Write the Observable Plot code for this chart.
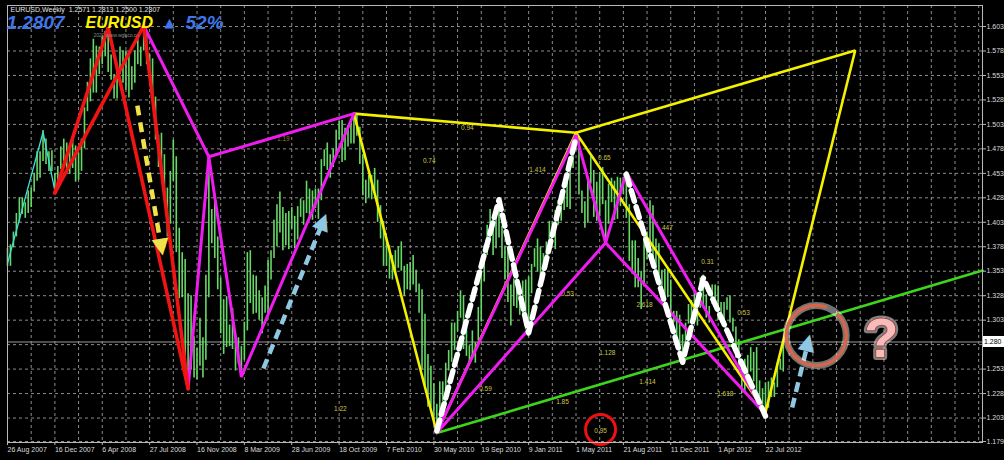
<!DOCTYPE html>
<html><head><meta charset="utf-8">
<script src="https://cdn.jsdelivr.net/npm/d3@7"></script>
<script src="https://cdn.jsdelivr.net/npm/@observablehq/plot@0.6"></script>
<style>html,body{margin:0;padding:0;background:#000;overflow:hidden}#chart{width:1004px;height:460px}</style>
</head><body><div id="chart"></div>
<script>
// ---------- DATA ----------
const firstWeek = "2007-08-26";
const lastWeek = "2012-09-02";
const domainEnd = "2013-12-17";
// weekly lows / highs
const lows2007 = [1.3580,1.3580,1.3770,1.3880,1.4030,1.4110,1.4070,1.4120,1.4180,1.4340,1.4450,1.4480,1.4650,1.4620,1.4550,1.4550,1.4350,1.4380,1.4570];
const highs2007 = [1.3760,1.3800,1.3930,1.4120,1.4280,1.4280,1.4230,1.4350,1.4380,1.4530,1.4750,1.4750,1.4967,1.4880,1.4750,1.4760,1.4530,1.4600,1.4800];
const lows2008 = [1.4630,1.4580,1.4520,1.4580,1.4440,1.4460,1.4550,1.4780,1.5160,1.5260,1.5350,1.5350,1.5540,1.5640,1.5720,1.5560,1.5480,1.5290,1.5290,1.5540,1.5450,1.5380,1.5300,1.5380,1.5450,1.5640,1.5620,1.5780,1.5640,1.5520,1.5300,1.4870,1.4590,1.4590,1.4270,1.3880,1.4010,1.4450,1.3720,1.3250,1.3260,1.2490,1.2330,1.2520,1.2440,1.2420,1.2560,1.2440,1.2620,1.3260,1.3810,1.3660];
const highs2008 = [1.4880,1.4840,1.4780,1.4900,1.4810,1.4740,1.4880,1.5200,1.5460,1.5700,1.5900,1.5830,1.5820,1.5920,1.5980,1.6020,1.5740,1.5540,1.5580,1.5820,1.5780,1.5780,1.5760,1.5620,1.5780,1.5920,1.5820,1.6040,1.5950,1.5740,1.5700,1.5310,1.4920,1.4940,1.4720,1.4380,1.4550,1.4870,1.4700,1.3970,1.3720,1.3650,1.3300,1.3280,1.2860,1.2740,1.3050,1.2850,1.3490,1.4720,1.4160,1.4300];
const lows2009 = [1.3340,1.2890,1.2680,1.2750,1.2760,1.2730,1.2510,1.2580,1.2460,1.2620,1.2920,1.3200,1.3090,1.3100,1.3030,1.2890,1.3100,1.3070,1.3440,1.3660,1.3780,1.3920,1.3740,1.3790,1.3750,1.3960,1.3760,1.3850,1.4080,1.4000,1.4120,1.4060,1.4050,1.4170,1.4060,1.4250,1.4600,1.4560,1.4480,1.4590,1.4710,1.4870,1.4640,1.4660,1.4800,1.4830,1.4830,1.4910,1.4620,1.4300,1.4220,1.4280];
const highs2009 = [1.3880,1.3460,1.3240,1.3270,1.2980,1.3150,1.2880,1.2850,1.2760,1.3010,1.3720,1.3740,1.3490,1.3480,1.3330,1.3260,1.3380,1.3640,1.3740,1.4050,1.4210,1.4340,1.4180,1.4120,1.4140,1.4180,1.4090,1.4190,1.4270,1.4250,1.4450,1.4370,1.4350,1.4370,1.4370,1.4670,1.4770,1.4840,1.4720,1.4780,1.4970,1.5060,1.5070,1.4990,1.5020,1.5070,1.5140,1.5140,1.5000,1.4720,1.4460,1.4510];
const lows2010 = [1.4260,1.4330,1.4030,1.3860,1.3580,1.3580,1.3450,1.3440,1.3510,1.3560,1.3530,1.3270,1.3340,1.3330,1.3390,1.3310,1.3100,1.2520,1.2360,1.2140,1.2140,1.1960,1.1876,1.2010,1.2200,1.2150,1.2510,1.2600,1.2720,1.2910,1.3050,1.2730,1.2660,1.2590,1.2650,1.2590,1.2820,1.3010,1.3420,1.3690,1.3850,1.3690,1.3760,1.3870,1.3660,1.3440,1.3210,1.2970,1.3170,1.3150,1.3080,1.3100];
const highs2010 = [1.4510,1.4580,1.4460,1.4200,1.4040,1.3860,1.3790,1.3690,1.3740,1.3780,1.3830,1.3580,1.3600,1.3620,1.3690,1.3540,1.3400,1.3340,1.3090,1.2680,1.2560,1.2380,1.2170,1.2400,1.2400,1.2590,1.2720,1.3000,1.3000,1.3120,1.3330,1.3280,1.2960,1.2770,1.2920,1.2800,1.3160,1.3500,1.3790,1.4000,1.4160,1.4100,1.4100,1.4280,1.3990,1.3780,1.3780,1.3390,1.3450,1.3500,1.3250,1.3430];
const lows2011 = [1.2930,1.2860,1.3300,1.3570,1.3520,1.3430,1.3430,1.3560,1.3760,1.3860,1.3750,1.4000,1.4040,1.4150,1.4180,1.4160,1.4580,1.4760,1.4310,1.4120,1.3970,1.4020,1.4420,1.4080,1.4040,1.4090,1.4210,1.3840,1.4010,1.4230,1.4050,1.4060,1.4190,1.4310,1.4070,1.3630,1.3500,1.3360,1.3360,1.3140,1.3370,1.3650,1.3690,1.3610,1.3480,1.3420,1.3240,1.3190,1.3260,1.2950,1.3000,1.2860];
const highs2011 = [1.3440,1.3470,1.3600,1.3760,1.3860,1.3780,1.3710,1.3830,1.4040,1.4040,1.4150,1.4250,1.4240,1.4340,1.4520,1.4650,1.4880,1.4940,1.4890,1.4350,1.4240,1.4460,1.4700,1.4560,1.4440,1.4540,1.4590,1.4250,1.4420,1.4480,1.4450,1.4490,1.4480,1.4490,1.4550,1.4210,1.3840,1.3840,1.3660,1.3530,1.3920,1.3930,1.4250,1.4200,1.3860,1.3810,1.3540,1.3550,1.3550,1.3440,1.3120,1.3120];
const lows2012 = [1.2660,1.2620,1.2690,1.2990,1.3020,1.3080,1.2970,1.3150,1.3180,1.3050,1.3000,1.3190,1.3250,1.3030,1.3000,1.3000,1.3130,1.3000,1.2910,1.2640,1.2500,1.2280,1.2290,1.2440,1.2500,1.2400,1.2270,1.2160,1.2160,1.2042,1.2130,1.2240,1.2240,1.2340,1.2520,1.2500];
const highs2012 = [1.3080,1.2880,1.3000,1.3190,1.3230,1.3320,1.3180,1.3460,1.3490,1.3290,1.3170,1.3390,1.3390,1.3380,1.3210,1.3210,1.3260,1.3280,1.3050,1.2960,1.2830,1.2540,1.2630,1.2670,1.2750,1.2700,1.2750,1.2410,1.2330,1.2390,1.2400,1.2440,1.2390,1.2590,1.2630,1.2813];

const currentPrice = 1.2807;
const currentLabel = "1.280";
const yTicks = [1.179,1.203,1.228,1.253,1.278,1.303,1.328,1.353,1.378,1.403,1.428,1.453,1.478,1.503,1.528,1.553,1.578,1.603];
const yLabelTicks = [1.179,1.203,1.228,1.253,1.303,1.328,1.353,1.378,1.403,1.428,1.453,1.478,1.503,1.528,1.553,1.578,1.603];
const xLabelDates = ["2007-08-26","2007-12-16","2008-04-06","2008-07-27","2008-11-16","2009-03-08","2009-06-28","2009-10-18","2010-02-07","2010-05-30","2010-09-19","2011-01-09","2011-05-01","2011-08-21","2011-12-11","2012-04-01","2012-07-22"];

const cyanZigzag = [["2007-08-26",1.3610],["2007-11-18",1.4950],["2007-12-16",1.4350]];
const redLegs = [
  [["2007-12-16",1.4330],["2008-04-20",1.6020],["2008-10-26",1.2330]],
  [["2007-12-16",1.4330],["2008-07-13",1.6038],["2008-10-26",1.2330]]
];
const magentaLegs = [
  [["2008-07-13",1.6038],["2008-12-14",1.4700]],
  [["2008-10-26",1.2330],["2008-12-14",1.4700],["2009-03-01",1.2450],["2009-11-22",1.5140]],
  [["2008-12-14",1.4700],["2009-11-22",1.5140]],
  [["2010-06-06",1.1880],["2011-05-01",1.4920],["2011-07-10",1.3820],["2011-08-28",1.4540],["2012-07-22",1.2070]],
  [["2010-06-06",1.1880],["2011-07-10",1.3820],["2012-07-22",1.2070]]
];
const yellowLegs = [
  [["2009-11-22",1.5140],["2010-06-06",1.1880],["2011-05-01",1.4945],["2012-07-22",1.2090],["2013-02-19",1.5785],["2011-05-01",1.4945]],
  [["2009-11-22",1.5140],["2011-05-01",1.4945]]
];
const greenTrend = [["2010-06-06",1.1876],["2013-12-17",1.3537]];
const whiteZigzags = [
  [["2010-06-06",1.1900],["2010-10-31",1.4260],["2011-01-09",1.2900],["2011-05-01",1.4900]],
  [["2011-08-28",1.4520],["2012-01-08",1.2600],["2012-02-26",1.3460],["2012-07-22",1.2050]]
];
const yellowArrow = [["2008-06-28",1.5223],["2008-08-24",1.3762]];
const blueArrows = [
  [["2009-04-22",1.2536],["2009-09-11",1.4048]],
  [["2012-09-23",1.2137],["2012-10-31",1.2812]]
];
const bigCircle = ["2012-11-19",1.2873];
const smallCircle = ["2011-06-28",1.1913];
const questionMark = ["2013-04-22",1.2837];
const ratioLabels = [
  ["0.94","2010-08-17",1.4998],["0.74","2010-05-19",1.4661],["1.414","2011-01-30",1.4569],
  ["0.65","2011-07-07",1.4692],["0.53","2011-04-11",1.3302],["447","2011-12-03",1.3976],
  ["0.31","2012-03-07",1.3629],["2.618","2011-10-10",1.3190],["0.53","2012-05-31",1.3108],
  ["1.128","2011-07-14",1.2699],["1.414","2011-10-17",1.2403],["1.618","2012-04-18",1.2280],
  ["1.85","2011-03-30",1.2199],["0.59","2010-09-29",1.2332],["1.22","2009-10-21",1.2127],
  ["0.95","2011-06-28",1.1903]
];
const dimLabel = ["1.19","2009-06-08",1.4886];
const headerInfo = "EURUSD,Weekly  1.2571 1.2813 1.2500 1.2807";
const headerPrice = "1.2807";
const headerSymbol = "EURUSD";
const headerPct = "52%";
const watermark = "2020 www.wgbco.cn";

// ---------- BUILD ----------
const parse = d3.utcParse("%Y-%m-%d");
const lows = [...lows2007, ...lows2008, ...lows2009, ...lows2010, ...lows2011, ...lows2012];
const highs = [...highs2007, ...highs2008, ...highs2009, ...highs2010, ...highs2011, ...highs2012];
const weeks = d3.utcWeek.range(parse(firstWeek), d3.utcDay.offset(parse(lastWeek), 1));
const bars = weeks.map((d, i) => ({date: d, low: lows[i], high: highs[i]}));
const toPts = (legs) => legs.flatMap((leg, k) => leg.map(([d, p]) => ({date: parse(d), price: p, leg: k})));
const pt = ([d, p]) => ({date: parse(d), price: p});
const xStart = parse(firstWeek), xEnd = parse(domainEnd);
const gridDates = d3.utcWeek.range(xStart, xEnd, 8);
const labels = ratioLabels.map(([t, d, p]) => ({text: t, date: parse(d), price: p}));
const arrowShafts = (arrs) => arrs.map(([a, b]) => ({x1: parse(a[0]), y1: a[1], x2: parse(b[0]), y2: b[1]}));
const yArr = arrowShafts([yellowArrow]);
const bArr = arrowShafts(blueArrows);
const font = "Liberation Sans, Arial, sans-serif";

const chart = Plot.plot({
  width: 1004, height: 460,
  marginLeft: 7, marginRight: 22, marginTop: 5, marginBottom: 18,
  style: {background: "#000", color: "#dcdcdc", fontFamily: font, fontSize: "7px"},
  x: {type: "utc", domain: [xStart, xEnd], axis: null},
  y: {domain: [1.178, 1.6245], axis: null},
  marks: [
    Plot.gridX(gridDates, {stroke: "#8c8c8c", strokeOpacity: 1, strokeDasharray: "3,3"}),
    Plot.gridY(yTicks, {stroke: "#8c8c8c", strokeOpacity: 1, strokeDasharray: "3,3"}),
    Plot.ruleY([currentPrice], {stroke: "#9a9a9a", strokeWidth: 1}),
    Plot.ruleX(bars, {x: "date", y1: "low", y2: "high", stroke: "#66d866", strokeWidth: 1.6}),
    Plot.line(cyanZigzag.map(pt), {x: "date", y: "price", stroke: "#3fe0d8", strokeWidth: 1.3}),
    Plot.line(toPts(whiteZigzags), {x: "date", y: "price", z: "leg", stroke: "#3fe0d8", strokeWidth: 1.2}),
    Plot.text(labels, {x: "date", y: "price", text: "text", fill: "#cfc447", fontSize: 6.5}),
    Plot.text([dimLabel], {x: d => parse(d[1]), y: d => d[2], text: d => d[0], fill: "#9a7a2a", fontSize: 6.5}),
    Plot.line(greenTrend.map(pt), {x: "date", y: "price", stroke: "#3ed41e", strokeWidth: 2.6}),
    Plot.line(toPts(yellowLegs), {x: "date", y: "price", z: "leg", stroke: "#f4f000", strokeWidth: 2.6, strokeLinejoin: "miter"}),
    Plot.line(toPts(magentaLegs), {x: "date", y: "price", z: "leg", stroke: "#ee1cee", strokeWidth: 3, strokeLinejoin: "miter"}),
    Plot.line(toPts(redLegs), {x: "date", y: "price", z: "leg", stroke: "#f01414", strokeWidth: 3.6, strokeLinejoin: "miter"}),
    Plot.line(toPts(whiteZigzags), {x: "date", y: "price", z: "leg", stroke: "#ffffff", strokeWidth: 5.5, strokeDasharray: "11,6"}),
    // arrows
    Plot.link(yArr, {x1: "x1", y1: "y1", x2: "x2", y2: "y2", stroke: "#f0e24a", strokeWidth: 4.5, strokeDasharray: "10,7"}),
    Plot.text(yArr, {x: "x2", y: "y2", text: () => "▲", fill: "#f0e24a", fontSize: 22, rotate: 171, fontFamily: "DejaVu Sans"}),
    Plot.link(bArr, {x1: "x1", y1: "y1", x2: "x2", y2: "y2", stroke: "#8fc8e0", strokeWidth: 4.5, strokeDasharray: "10,6"}),
    Plot.text(bArr, {x: "x2", y: "y2", text: () => "▲", fill: "#8fc8e0", fontSize: 22, rotate: (d, i) => i === 0 ? 22 : 14, fontFamily: "DejaVu Sans"}),
    // circles and question mark
    Plot.dot([smallCircle], {x: d => parse(d[0]), y: d => d[1], r: 15, stroke: "#ee1010", strokeWidth: 3}),
    Plot.dot([bigCircle], {x: d => parse(d[0]), y: d => d[1], r: 30, stroke: "#ffffff", strokeOpacity: 0.45, strokeWidth: 7}),
    Plot.dot([bigCircle], {x: d => parse(d[0]), y: d => d[1], r: 30, stroke: "#d4664c", strokeWidth: 3.5, strokeDasharray: "152,12,30,0"}),
    Plot.text([questionMark], {x: d => parse(d[0]), y: d => d[1], text: () => "?", fontSize: 56, fontWeight: "bold", fill: "#f6bcbc", stroke: "#ffffff", strokeWidth: 6, strokeOpacity: 0.5, paintOrder: "stroke"}),
    Plot.text([questionMark], {x: d => parse(d[0]), y: d => d[1], text: () => "?", fontSize: 56, fontWeight: "bold", fill: "#f6bcbc", stroke: "#a83a34", strokeWidth: 1.6, paintOrder: "stroke"}),
    // frame and axes
    Plot.frame({stroke: "#b8b8b8"}),
    Plot.axisX(xLabelDates.map(parse), {tickFormat: d3.utcFormat("%-d %b %Y"), textAnchor: "start", tickSize: 3, tickPadding: 2, fontSize: 7, fill: "#dcdcdc", stroke: "#b8b8b8"}),
    Plot.axisY(yLabelTicks, {anchor: "right", tickSize: 3, tickPadding: 1, tickFormat: d => d.toFixed(3), fontSize: 7, fill: "#dcdcdc", stroke: "#b8b8b8"}),
    // header
    Plot.text([headerInfo], {text: d => d, frameAnchor: "top-left", dx: 3, dy: 4, textAnchor: "start", lineAnchor: "middle", fontSize: 7, fill: "#e6e6e6"}),
    Plot.text([headerPrice], {text: d => d, frameAnchor: "top-left", dx: -1, dy: 17, textAnchor: "start", lineAnchor: "middle", fontSize: 19, fontWeight: "bold", fontStyle: "italic", fill: "#3f76ea"}),
    Plot.text([headerSymbol], {text: d => d, frameAnchor: "top-left", dx: 78, dy: 17, textAnchor: "start", lineAnchor: "middle", fontSize: 16, fontWeight: "bold", fontStyle: "italic", fill: "#fff200"}),
    Plot.text(["▲"], {text: d => d, frameAnchor: "top-left", dx: 162, dy: 17, textAnchor: "middle", lineAnchor: "middle", fontSize: 13, fill: "#3f76ea", fontFamily: "DejaVu Sans"}),
    Plot.text([headerPct], {text: d => d, frameAnchor: "top-left", dx: 178, dy: 17, textAnchor: "start", lineAnchor: "middle", fontSize: 19, fontWeight: "bold", fontStyle: "italic", fill: "#3f76ea"}),
    Plot.text([watermark], {text: d => d, frameAnchor: "top-left", dx: 86, dy: 30, textAnchor: "start", lineAnchor: "middle", fontSize: 5, fill: "#8a8a8a"})
  ]
});

// current price marker on the right axis
const yS = chart.scale("y"), xS = chart.scale("x");
const yy = yS.apply(currentPrice), xr = xS.range[1];
const g = d3.select(chart).append("g").attr("text-anchor", "start");
g.append("rect").attr("x", xr + 1).attr("y", yy - 5.5).attr("width", 24).attr("height", 11).attr("fill", "#ffffff");
g.append("text").attr("x", xr + 2).attr("y", yy).attr("dy", "0.35em").attr("font-size", "7px").attr("text-anchor", "start").attr("fill", "#000").attr("font-family", font).text(currentLabel);

document.getElementById("chart").appendChild(chart);
</script>
</body></html>
